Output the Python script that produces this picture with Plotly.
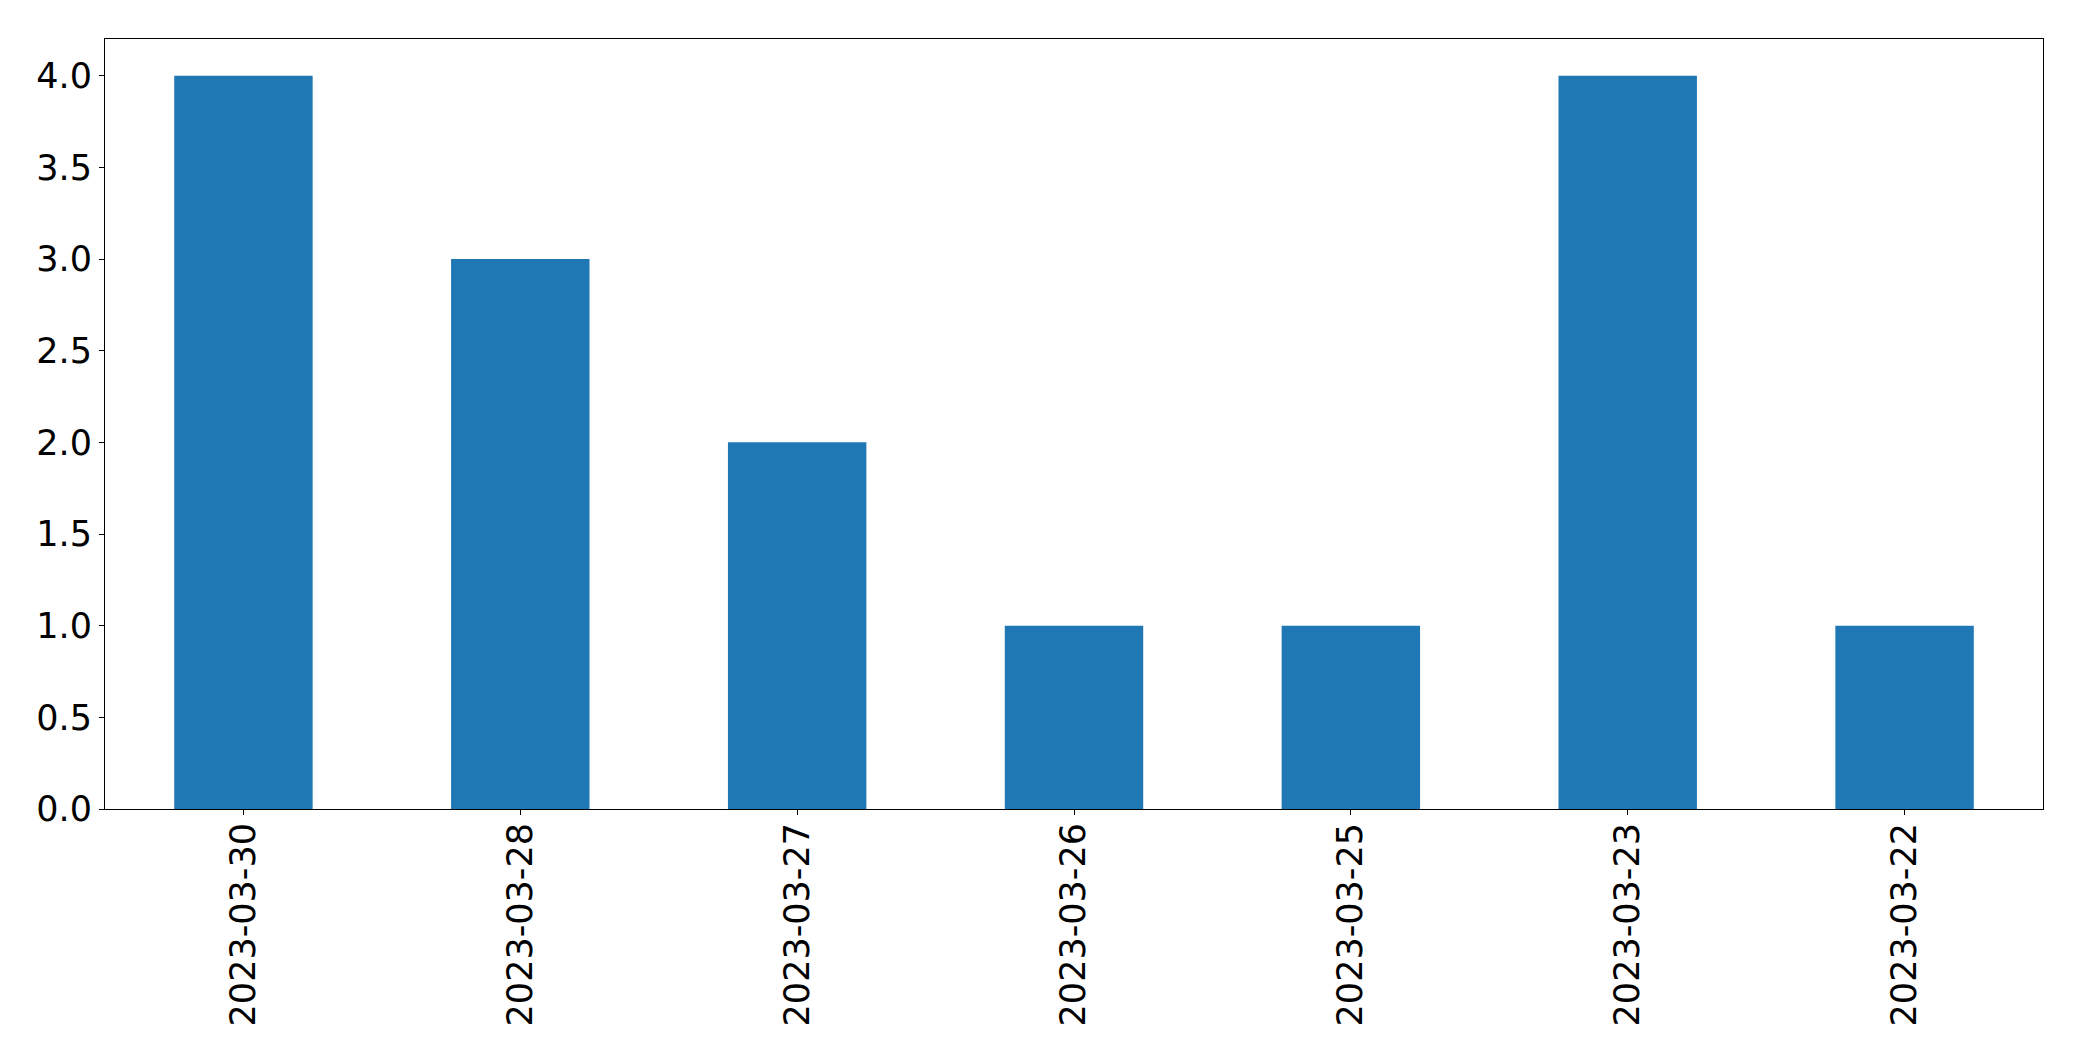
import plotly.graph_objects as go

dates = ["2023-03-30", "2023-03-28", "2023-03-27", "2023-03-26", "2023-03-25", "2023-03-23", "2023-03-22"]
counts = [4, 3, 2, 1, 1, 4, 1]
y_ticks = [0.0, 0.5, 1.0, 1.5, 2.0, 2.5, 3.0, 3.5, 4.0]
y_tick_labels = ["0.0", "0.5", "1.0", "1.5", "2.0", "2.5", "3.0", "3.5", "4.0"]

fig = go.Figure(go.Bar(x=dates, y=counts, width=0.5, marker=dict(color="#1f77b4", line=dict(width=0))))

font = dict(family="DejaVu Sans", size=35, color="black")
fig.update_layout(
    width=2074, height=1053,
    margin=dict(l=97, r=39, t=31, b=252, pad=0),
    plot_bgcolor="white", paper_bgcolor="white",
    showlegend=False, bargap=0.5,
    font=font,
)
fig.update_xaxes(
    type="category", range=[-0.5, 6.5], tickangle=-90,
    showline=True, linecolor="black", linewidth=1, mirror=True,
    ticks="outside", ticklen=5, tickcolor="black", tickwidth=1,
    showgrid=False, zeroline=False, tickfont=font, ticklabelstandoff=-6,
)
fig.update_yaxes(
    range=[0, 4.2], tickvals=y_ticks, ticktext=y_tick_labels,
    showline=True, linecolor="black", linewidth=1, mirror=True,
    ticks="outside", ticklen=5, tickcolor="black", tickwidth=1,
    showgrid=False, zeroline=False, tickfont=font, ticklabelstandoff=0,
)
fig.write_html("out.html")
